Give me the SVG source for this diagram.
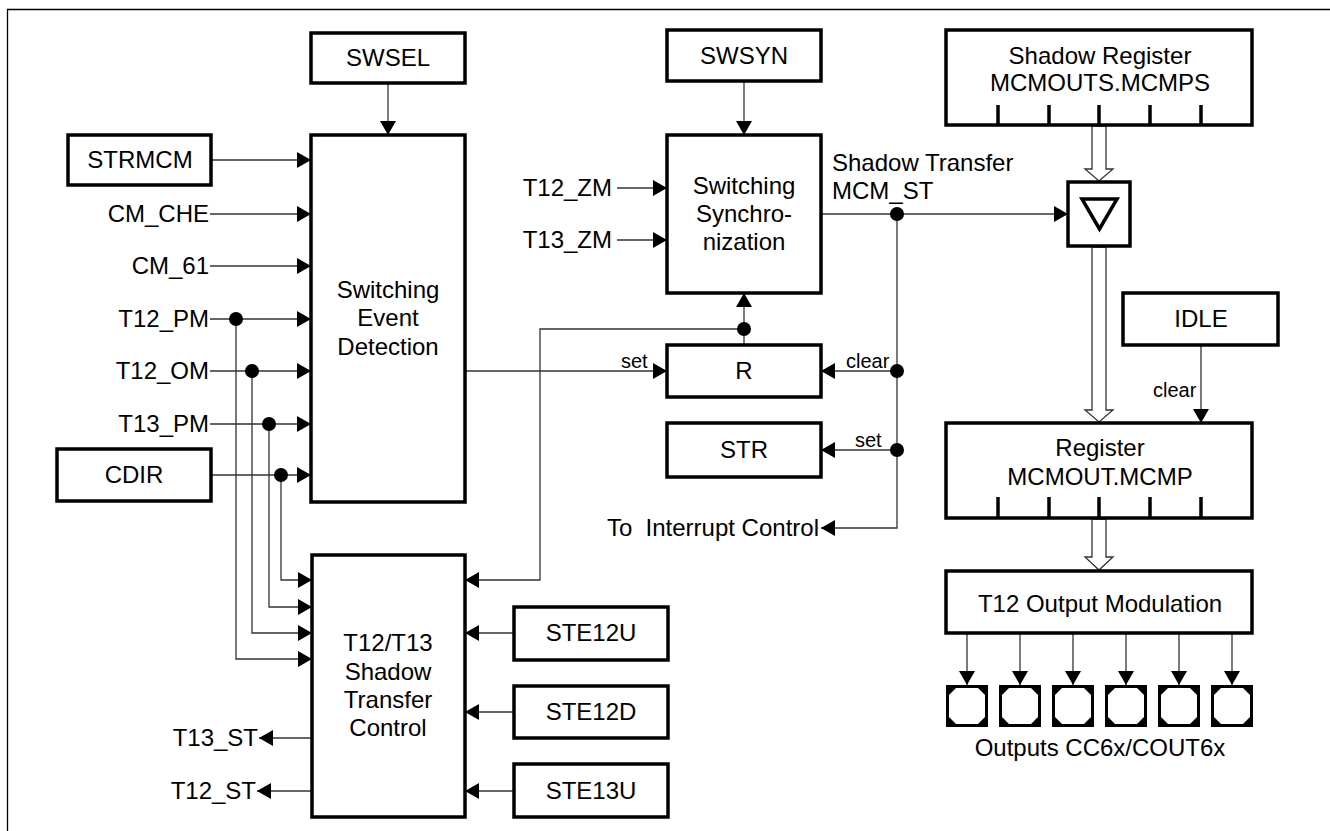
<svg xmlns="http://www.w3.org/2000/svg" width="1330" height="831" viewBox="0 0 1330 831">
<style>
text{font-family:"Liberation Sans",Arial,sans-serif;font-size:24px;fill:#000}
.c{text-anchor:middle}
.e{text-anchor:end}
.s{font-size:20px}
.box{fill:#fff;stroke:#000;stroke-width:3.5}
.ln{fill:none;stroke:#333;stroke-width:1.3}
.ar{fill:none;stroke:#333;stroke-width:1.3;marker-end:url(#ah)}
.dot{fill:#000}
.tick{stroke:#000;stroke-width:3.5}
.hol{fill:#fff;stroke:#333;stroke-width:1.3}
</style>
<defs>
<marker id="ah" markerUnits="userSpaceOnUse" markerWidth="15" markerHeight="17" refX="14" refY="8" orient="auto">
<path d="M0,0 L14,8 L0,16 z" fill="#000"/>
</marker>
<g id="pad">
<rect x="0" y="0" width="42" height="42" fill="#000"/>
<polygon points="10,3 32,3 39,10 39,32 32,39 10,39 3,32 3,10" fill="#fff"/>
</g>
</defs>
<rect width="1330" height="831" fill="#fff"/>
<path d="M7.5,831 V9.5 H1330" fill="none" stroke="#000" stroke-width="1.3"/>

<g id="connectors">
<path class="ar" d="M388,83 V135"/>
<path class="ar" d="M744,81 V135"/>
<path class="ar" d="M211,160 H311"/>
<path class="ar" d="M210,214 H311"/>
<path class="ar" d="M210,266 H311"/>
<path class="ar" d="M210,319 H311"/>
<path class="ar" d="M210,371 H311"/>
<path class="ar" d="M210,424 H311"/>
<path class="ar" d="M211,475 H311"/>
<path class="ar" d="M236,319 V659 H312"/>
<path class="ar" d="M252,371 V633 H312"/>
<path class="ar" d="M269,424 V607 H312"/>
<path class="ar" d="M281,475 V580 H312"/>
<path class="ar" d="M465,371 H667"/>
<path class="ar" d="M617,188 H667"/>
<path class="ar" d="M617,240 H667"/>
<path class="ar" d="M821,214 H1068"/>
<path class="ar" d="M897,214 V528 H821"/>
<path class="ar" d="M897,371 H821"/>
<path class="ar" d="M897,450 H821"/>
<path class="ar" d="M744,345 V293"/>
<path class="ar" d="M744,329 H540 V580 H465"/>
<path class="ar" d="M514,633 H465"/>
<path class="ar" d="M514,712 H465"/>
<path class="ar" d="M514,791 H465"/>
<path class="ar" d="M312,738 H259"/>
<path class="ar" d="M312,791 H257"/>
<path class="ar" d="M1201,345 V423"/>
<path class="ar" d="M967,633 V685"/>
<path class="ar" d="M1020,633 V685"/>
<path class="ar" d="M1073,633 V685"/>
<path class="ar" d="M1126,633 V685"/>
<path class="ar" d="M1179,633 V685"/>
<path class="ar" d="M1232,633 V685"/>
<path class="hol" d="M1092,126 V169 H1085 L1099,181 L1113,169 H1106 V126 Z"/>
<path class="hol" d="M1092,247 V410 H1085 L1099,422 L1113,410 H1106 V247 Z"/>
<path class="hol" d="M1092,519 V557 H1085 L1099,570 L1113,557 H1106 V519 Z"/>
<circle class="dot" cx="236" cy="319" r="7"/>
<circle class="dot" cx="252" cy="371" r="7"/>
<circle class="dot" cx="269" cy="424" r="7"/>
<circle class="dot" cx="281" cy="475" r="7"/>
<circle class="dot" cx="897" cy="214" r="7"/>
<circle class="dot" cx="897" cy="371" r="7"/>
<circle class="dot" cx="897" cy="450" r="7"/>
<circle class="dot" cx="744" cy="329" r="7"/>
<text class="s" x="621" y="368">set</text>
<text class="s" x="846" y="368">clear</text>
<text class="s" x="855" y="447">set</text>
<text class="s" x="1153" y="397">clear</text>
</g>

<g id="swsel"><rect class="box" x="311" y="33" width="154" height="50"/><text class="c" x="388" y="66">SWSEL</text></g>
<g id="swsyn"><rect class="box" x="667" y="30" width="154" height="51"/><text class="c" x="744" y="64">SWSYN</text></g>
<g id="strmcm"><rect class="box" x="68" y="135" width="143" height="50"/><text class="c" x="140" y="168">STRMCM</text></g>
<g id="cdir"><rect class="box" x="57" y="449" width="154" height="52"/><text class="c" x="134" y="483">CDIR</text></g>
<g id="sed"><rect class="box" x="311" y="135" width="154" height="367"/>
<text class="c" x="388" y="298">Switching</text><text class="c" x="388" y="326">Event</text><text class="c" x="388" y="355">Detection</text></g>
<g id="ss"><rect class="box" x="667" y="135" width="154" height="158"/>
<text class="c" x="744" y="194">Switching</text><text class="c" x="744" y="222">Synchro-</text><text class="c" x="744" y="250">nization</text></g>
<g id="r"><rect class="box" x="667" y="345" width="154" height="52"/><text class="c" x="744" y="379">R</text></g>
<g id="str"><rect class="box" x="667" y="423" width="154" height="54"/><text class="c" x="744" y="458">STR</text></g>
<g id="stc"><rect class="box" x="312" y="555" width="153" height="262"/>
<text class="c" x="388" y="651">T12/T13</text><text class="c" x="388" y="680">Shadow</text><text class="c" x="388" y="708">Transfer</text><text class="c" x="388" y="736">Control</text></g>
<g id="ste12u"><rect class="box" x="514" y="607" width="154" height="53"/><text class="c" x="591" y="641">STE12U</text></g>
<g id="ste12d"><rect class="box" x="514" y="686" width="154" height="52"/><text class="c" x="591" y="720">STE12D</text></g>
<g id="ste13u"><rect class="box" x="514" y="764" width="154" height="53"/><text class="c" x="591" y="799">STE13U</text></g>
<g id="shadowreg"><rect class="box" x="946" y="30" width="306" height="95"/>
<text class="c" x="1100" y="64">Shadow Register</text><text class="c" x="1100" y="91">MCMOUTS.MCMPS</text>
<path class="tick" d="M998,105 V125 M1049,105 V125 M1099,105 V125 M1150,105 V125 M1201,105 V125"/></g>
<g id="latch"><rect class="box" x="1068" y="182" width="62" height="64"/>
<polygon points="1082,199 1117,199 1099.5,229" fill="none" stroke="#000" stroke-width="3.5"/></g>
<g id="idle"><rect class="box" x="1123" y="293" width="155" height="52"/><text class="c" x="1201" y="327">IDLE</text></g>
<g id="register"><rect class="box" x="946" y="423" width="306" height="95"/>
<text class="c" x="1100" y="456">Register</text><text class="c" x="1100" y="485">MCMOUT.MCMP</text>
<path class="tick" d="M998,497 V518 M1049,497 V518 M1099,497 V518 M1150,497 V518 M1201,497 V518"/></g>
<g id="outmod"><rect class="box" x="946" y="571" width="306" height="62"/><text class="c" x="1100" y="612">T12 Output Modulation</text></g>
<g id="outputs">
<use href="#pad" x="946" y="685"/><use href="#pad" x="999" y="685"/><use href="#pad" x="1052" y="685"/>
<use href="#pad" x="1105" y="685"/><use href="#pad" x="1158" y="685"/><use href="#pad" x="1211" y="685"/>
<text class="c" x="1100" y="756">Outputs CC6x/COUT6x</text></g>

<g id="labels">
<text class="e" x="209" y="222">CM_CHE</text>
<text class="e" x="209" y="274">CM_61</text>
<text class="e" x="209" y="327">T12_PM</text>
<text class="e" x="209" y="379">T12_OM</text>
<text class="e" x="209" y="432">T13_PM</text>
<text class="e" x="612" y="196">T12_ZM</text>
<text class="e" x="612" y="248">T13_ZM</text>
<text class="e" x="258" y="746">T13_ST</text>
<text class="e" x="256" y="799">T12_ST</text>
<text x="832" y="171">Shadow Transfer</text>
<text x="832" y="199">MCM_ST</text>
<text class="e" x="819" y="536" style="white-space:pre">To  Interrupt Control</text>
</g>
</svg>
